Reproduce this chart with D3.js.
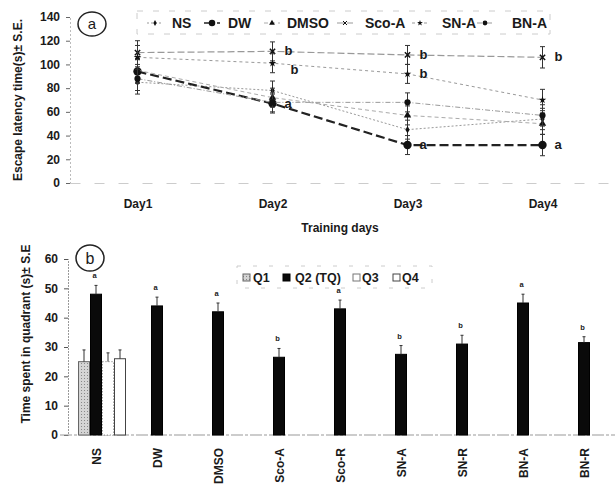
<!DOCTYPE html>
<html>
<head>
<meta charset="utf-8">
<script src="https://cdn.jsdelivr.net/npm/d3@7"></script>
<style>
  body { margin: 0; background: #fff; }
  svg text { font-family: "Liberation Sans", Arial, sans-serif; font-weight: bold; fill: #1a1a1a; }
</style>
</head>
<body>
<svg id="chart" width="615" height="491"></svg>
<script>
// Data: escape latency (panel a)
const days = ['Day1', 'Day2', 'Day3', 'Day4'];
const groupsA = ['NS', 'DW', 'DMSO', 'Sco-A', 'SN-A', 'BN-A'];
const latNS = [85, 78, 45, 54];
const latDW = [94, 67, 32, 32];
const latDMSO = [95, 72, 57, 50];
const latScoA = [110, 111, 108, 106];
const latSNA = [106, 101, 92, 70];
const latBNA = [88, 68, 68, 57];
const latSE = [10, 8, 8, 9];
const latLetters = [
  ['Sco-A', 'Day2', 'b'], ['SN-A', 'Day2', 'b'], ['DW', 'Day2', 'a'],
  ['Sco-A', 'Day3', 'b'], ['SN-A', 'Day3', 'b'], ['DW', 'Day3', 'a'],
  ['Sco-A', 'Day4', 'b'], ['DW', 'Day4', 'a'],
];

// Data: time in quadrant (panel b)
const groupsB = ['NS', 'DW', 'DMSO', 'Sco-A', 'Sco-R', 'SN-A', 'SN-R', 'BN-A', 'BN-R'];
const quadrants = ['Q1', 'Q2 (TQ)', 'Q3', 'Q4'];
const q1 = [25, 0, 0, 0, 0, 0, 0, 0, 0];
const q2 = [48, 44, 42, 26.5, 43, 27.5, 31, 45, 31.5];
const q3 = [25, 0, 0, 0, 0, 0, 0, 0, 0];
const q4 = [26, 0, 0, 0, 0, 0, 0, 0, 0];
const q1SE = [4, 0, 0, 0, 0, 0, 0, 0, 0];
const q2SE = [3, 3, 3, 3, 3, 3, 3, 3, 2];
const q3SE = [3, 0, 0, 0, 0, 0, 0, 0, 0];
const q4SE = [3, 0, 0, 0, 0, 0, 0, 0, 0];
const q2Letters = ['a', 'a', 'a', 'b', 'a', 'b', 'b', 'a', 'b'];

const svg = d3.select('#chart');

// Styles per series
const styleA = {
  'NS': { dash: '2,2', width: 1, color: '#999', sym: d3.symbolDiamond, size: 16 },
  'DW': { dash: '9,4', width: 2.2, color: '#222', sym: d3.symbolCircle, size: 55 },
  'DMSO': { dash: '4,3', width: 1, color: '#aaa', sym: d3.symbolTriangle, size: 24 },
  'Sco-A': { dash: '7,3', width: 1.2, color: '#999', sym: d3.symbolTimes, size: 20 },
  'SN-A': { dash: '3,3', width: 1, color: '#999', sym: d3.symbolStar, size: 18 },
  'BN-A': { dash: '5,2,1,2', width: 1, color: '#999', sym: d3.symbolCircle, size: 30 },
};
const latValues = [latNS, latDW, latDMSO, latScoA, latSNA, latBNA];
const seriesA = groupsA.map((g, i) => ({
  name: g,
  values: days.map((d, j) => ({ day: d, v: latValues[i][j], se: latSE[j] })),
}));

// ---------- Panel (a) ----------
const xA = d3.scalePoint(days, [70, 610]).padding(0.5);
const yA = d3.scaleLinear([0, 140], [183, 17]);

svg.append('g')
  .attr('transform', 'translate(70,0)')
  .call(d3.axisLeft(yA).tickValues(d3.range(0, 141, 20)).tickSize(4).tickPadding(6))
  .call(g => g.select('.domain').attr('stroke', '#bbb').attr('stroke-dasharray', '2,2'))
  .call(g => g.selectAll('.tick line').attr('stroke', '#666'))
  .call(g => g.selectAll('text').attr('font-size', 12));

svg.append('g')
  .attr('transform', 'translate(0,183)')
  .call(d3.axisBottom(xA).tickSize(0).tickPadding(16))
  .call(g => g.select('.domain').attr('stroke', '#ccc').attr('stroke-dasharray', '10,14'))
  .call(g => g.selectAll('text').attr('font-size', 12));

svg.append('text')
  .attr('transform', 'translate(22,100) rotate(-90)')
  .attr('text-anchor', 'middle')
  .attr('font-size', 12)
  .text('Escape latency time(s)± S.E.');

svg.append('text')
  .attr('x', 340).attr('y', 232)
  .attr('text-anchor', 'middle')
  .attr('font-size', 12)
  .text('Training days');

// panel label
svg.append('ellipse').attr('cx', 92).attr('cy', 24).attr('rx', 14).attr('ry', 12)
  .attr('fill', 'none').attr('stroke', '#222').attr('stroke-width', 1.5);
svg.append('text').attr('x', 92).attr('y', 29).attr('text-anchor', 'middle')
  .attr('font-size', 15).style('font-weight', 'normal').text('a');

const line = d3.line().x(d => xA(d.day)).y(d => yA(d.v));

const sg = svg.append('g').selectAll('g').data(seriesA).join('g');

sg.append('path')
  .attr('d', d => line(d.values))
  .attr('fill', 'none')
  .attr('stroke', d => styleA[d.name].color)
  .attr('stroke-width', d => styleA[d.name].width)
  .attr('stroke-dasharray', d => styleA[d.name].dash);

// error bars
sg.selectAll('.err').data(d => d.values).join('path')
  .attr('class', 'err')
  .attr('d', d => {
    const x = xA(d.day), y0 = yA(d.v - d.se), y1 = yA(d.v + d.se);
    return `M${x},${y0}V${y1}M${x - 2.5},${y0}H${x + 2.5}M${x - 2.5},${y1}H${x + 2.5}`;
  })
  .attr('stroke', '#333').attr('stroke-width', 1);

sg.each(function (s) {
  const st = styleA[s.name];
  d3.select(this).selectAll('.mk').data(s.values).join('path')
    .attr('class', 'mk')
    .attr('transform', d => `translate(${xA(d.day)},${yA(d.v)})`)
    .attr('d', d3.symbol(st.sym, st.size))
    .attr('fill', '#111')
    .attr('stroke', st.sym === d3.symbolTimes ? '#111' : 'none')
    .attr('stroke-width', 1.5);
});

// significance letters; push down when two letters of one day collide
const lastY = {};
const letterPos = latLetters.map(d => {
  let y = yA(latValues[groupsA.indexOf(d[0])][days.indexOf(d[1])]) + 4;
  let x = xA(d[1]) + 12;
  if (lastY[d[1]] !== undefined && y - lastY[d[1]] < 16) {
    y = lastY[d[1]] + 19;
    x += 6;
  }
  lastY[d[1]] = y;
  return { x, y, t: d[2] };
});
svg.append('g').selectAll('text').data(letterPos).join('text')
  .attr('x', d => d.x)
  .attr('y', d => d.y)
  .attr('font-size', 13)
  .text(d => d.t);

// legend (a)
const legA = svg.append('g');
legA.append('rect').attr('x', 137).attr('y', 11).attr('width', 413).attr('height', 23)
  .attr('fill', 'none').attr('stroke', '#ccc').attr('stroke-dasharray', '6,10');
const legAMark = [155, 212, 272, 345, 420, 485];
const legAText = [172, 228, 287, 365, 442, 512];
const lg = legA.selectAll('g.item').data(groupsA).join('g')
  .attr('class', 'item');
lg.append('line')
  .attr('x1', (d, i) => legAMark[i] - 8).attr('x2', (d, i) => legAMark[i] + 8)
  .attr('y1', 23).attr('y2', 23)
  .attr('stroke', d => styleA[d].color)
  .attr('stroke-width', d => Math.min(styleA[d].width, 1.5))
  .attr('stroke-dasharray', d => styleA[d].dash);
lg.append('path').attr('transform', (d, i) => `translate(${legAMark[i]},23)`)
  .attr('d', d => d3.symbol(styleA[d].sym, styleA[d].size * 0.6)())
  .attr('fill', '#111')
  .attr('stroke', d => styleA[d].sym === d3.symbolTimes ? '#111' : 'none');
lg.append('text').attr('x', (d, i) => legAText[i]).attr('y', 28)
  .attr('font-size', 14)
  .text(d => d);

// ---------- Panel (b) ----------
const xB = d3.scaleBand(groupsB, [66, 615]);
const yB = d3.scaleLinear([0, 60], [435, 259]);
const barW = 12;
const xQ = d3.scaleBand(quadrants, [-1.5 * barW, 2.5 * barW]);

const defs = svg.append('defs');
const pat = defs.append('pattern').attr('id', 'dots').attr('width', 3).attr('height', 3)
  .attr('patternUnits', 'userSpaceOnUse');
pat.append('rect').attr('width', 3).attr('height', 3).attr('fill', '#d4d4d4');
pat.append('rect').attr('width', 1).attr('height', 1).attr('fill', '#888');

const quadFill = { 'Q1': 'url(#dots)', 'Q2 (TQ)': '#0a0a0a', 'Q3': '#fff', 'Q4': '#fff' };
const quadStroke = { 'Q1': '#666', 'Q2 (TQ)': '#000', 'Q3': '#777', 'Q4': '#444' };
const quadDash = { 'Q1': null, 'Q2 (TQ)': null, 'Q3': '1,2', 'Q4': null };
const qVals = [q1, q2, q3, q4];
const qSE = [q1SE, q2SE, q3SE, q4SE];

const bars = [];
groupsB.forEach((g, i) => {
  quadrants.forEach((q, k) => {
    if (qVals[k][i] > 0) bars.push({ g, q, v: qVals[k][i], se: qSE[k][i] });
  });
});

svg.append('g')
  .attr('transform', 'translate(68,0)')
  .call(d3.axisLeft(yB).tickValues(d3.range(0, 61, 10)).tickSize(4).tickPadding(6))
  .call(g => g.select('.domain').attr('stroke', '#999').attr('stroke-dasharray', '2,1'))
  .call(g => g.selectAll('.tick line').attr('stroke', '#555'))
  .call(g => g.selectAll('text').attr('font-size', 12));

svg.append('line').attr('x1', 60).attr('x2', 615).attr('y1', yB(0)).attr('y2', yB(0))
  .attr('stroke', '#999').attr('stroke-dasharray', '12,2,3,2');

const bcx = g => xB(g) + xB.bandwidth() / 2;

svg.append('g').selectAll('rect').data(bars).join('rect')
  .attr('x', d => bcx(d.g) + xQ(d.q))
  .attr('y', d => yB(d.v))
  .attr('width', barW - 1)
  .attr('height', d => yB(0) - yB(d.v))
  .attr('fill', d => quadFill[d.q])
  .attr('stroke', d => quadStroke[d.q])
  .attr('stroke-dasharray', d => quadDash[d.q]);

svg.append('g').selectAll('path').data(bars).join('path')
  .attr('d', d => {
    const x = bcx(d.g) + xQ(d.q) + (barW - 1) / 2;
    const y0 = yB(d.v), y1 = yB(d.v + d.se);
    return `M${x},${y0}V${y1}M${x - 1.5},${y1}H${x + 1.5}`;
  })
  .attr('stroke', '#333').attr('stroke-width', 1);

svg.append('g').selectAll('text').data(groupsB).join('text')
  .attr('x', (d, i) => bcx(d) - 2)
  .attr('y', (d, i) => yB(q2[i] + q2SE[i]) - 7)
  .attr('text-anchor', 'middle')
  .attr('font-size', 7.5)
  .attr('fill', '#444')
  .text((d, i) => q2Letters[i]);

svg.append('g').selectAll('text').data(groupsB).join('text')
  .attr('transform', d => `translate(${bcx(d) + 4},448) rotate(-90)`)
  .attr('text-anchor', 'end')
  .attr('font-size', 12)
  .text(d => d);

svg.append('text')
  .attr('transform', 'translate(30,334) rotate(-90)')
  .attr('text-anchor', 'middle')
  .attr('font-size', 12)
  .text('Time spent in quadrant (s)± S.E');

svg.append('ellipse').attr('cx', 90).attr('cy', 258).attr('rx', 14).attr('ry', 13)
  .attr('fill', 'none').attr('stroke', '#222').attr('stroke-width', 1.5);
svg.append('text').attr('x', 90).attr('y', 264).attr('text-anchor', 'middle')
  .attr('font-size', 16).style('font-weight', 'normal').text('b');

// legend (b)
const legB = svg.append('g');
legB.append('rect').attr('x', 237).attr('y', 266).attr('width', 195).attr('height', 22)
  .attr('fill', 'none').attr('stroke', '#ccc').attr('stroke-dasharray', '4,12');
const legBSq = [243, 283, 353, 393];
const legBText = [253, 295, 362, 402];
const lb = legB.selectAll('g.item').data(quadrants).join('g')
  .attr('class', 'item');
lb.append('rect')
  .attr('x', (d, i) => legBSq[i]).attr('y', 274).attr('width', 7).attr('height', 7)
  .attr('fill', d => quadFill[d]).attr('stroke', d => quadStroke[d]);
lb.append('text')
  .attr('x', (d, i) => legBText[i]).attr('y', 282)
  .attr('font-size', 12.5).text(d => d);
</script>
</body>
</html>
